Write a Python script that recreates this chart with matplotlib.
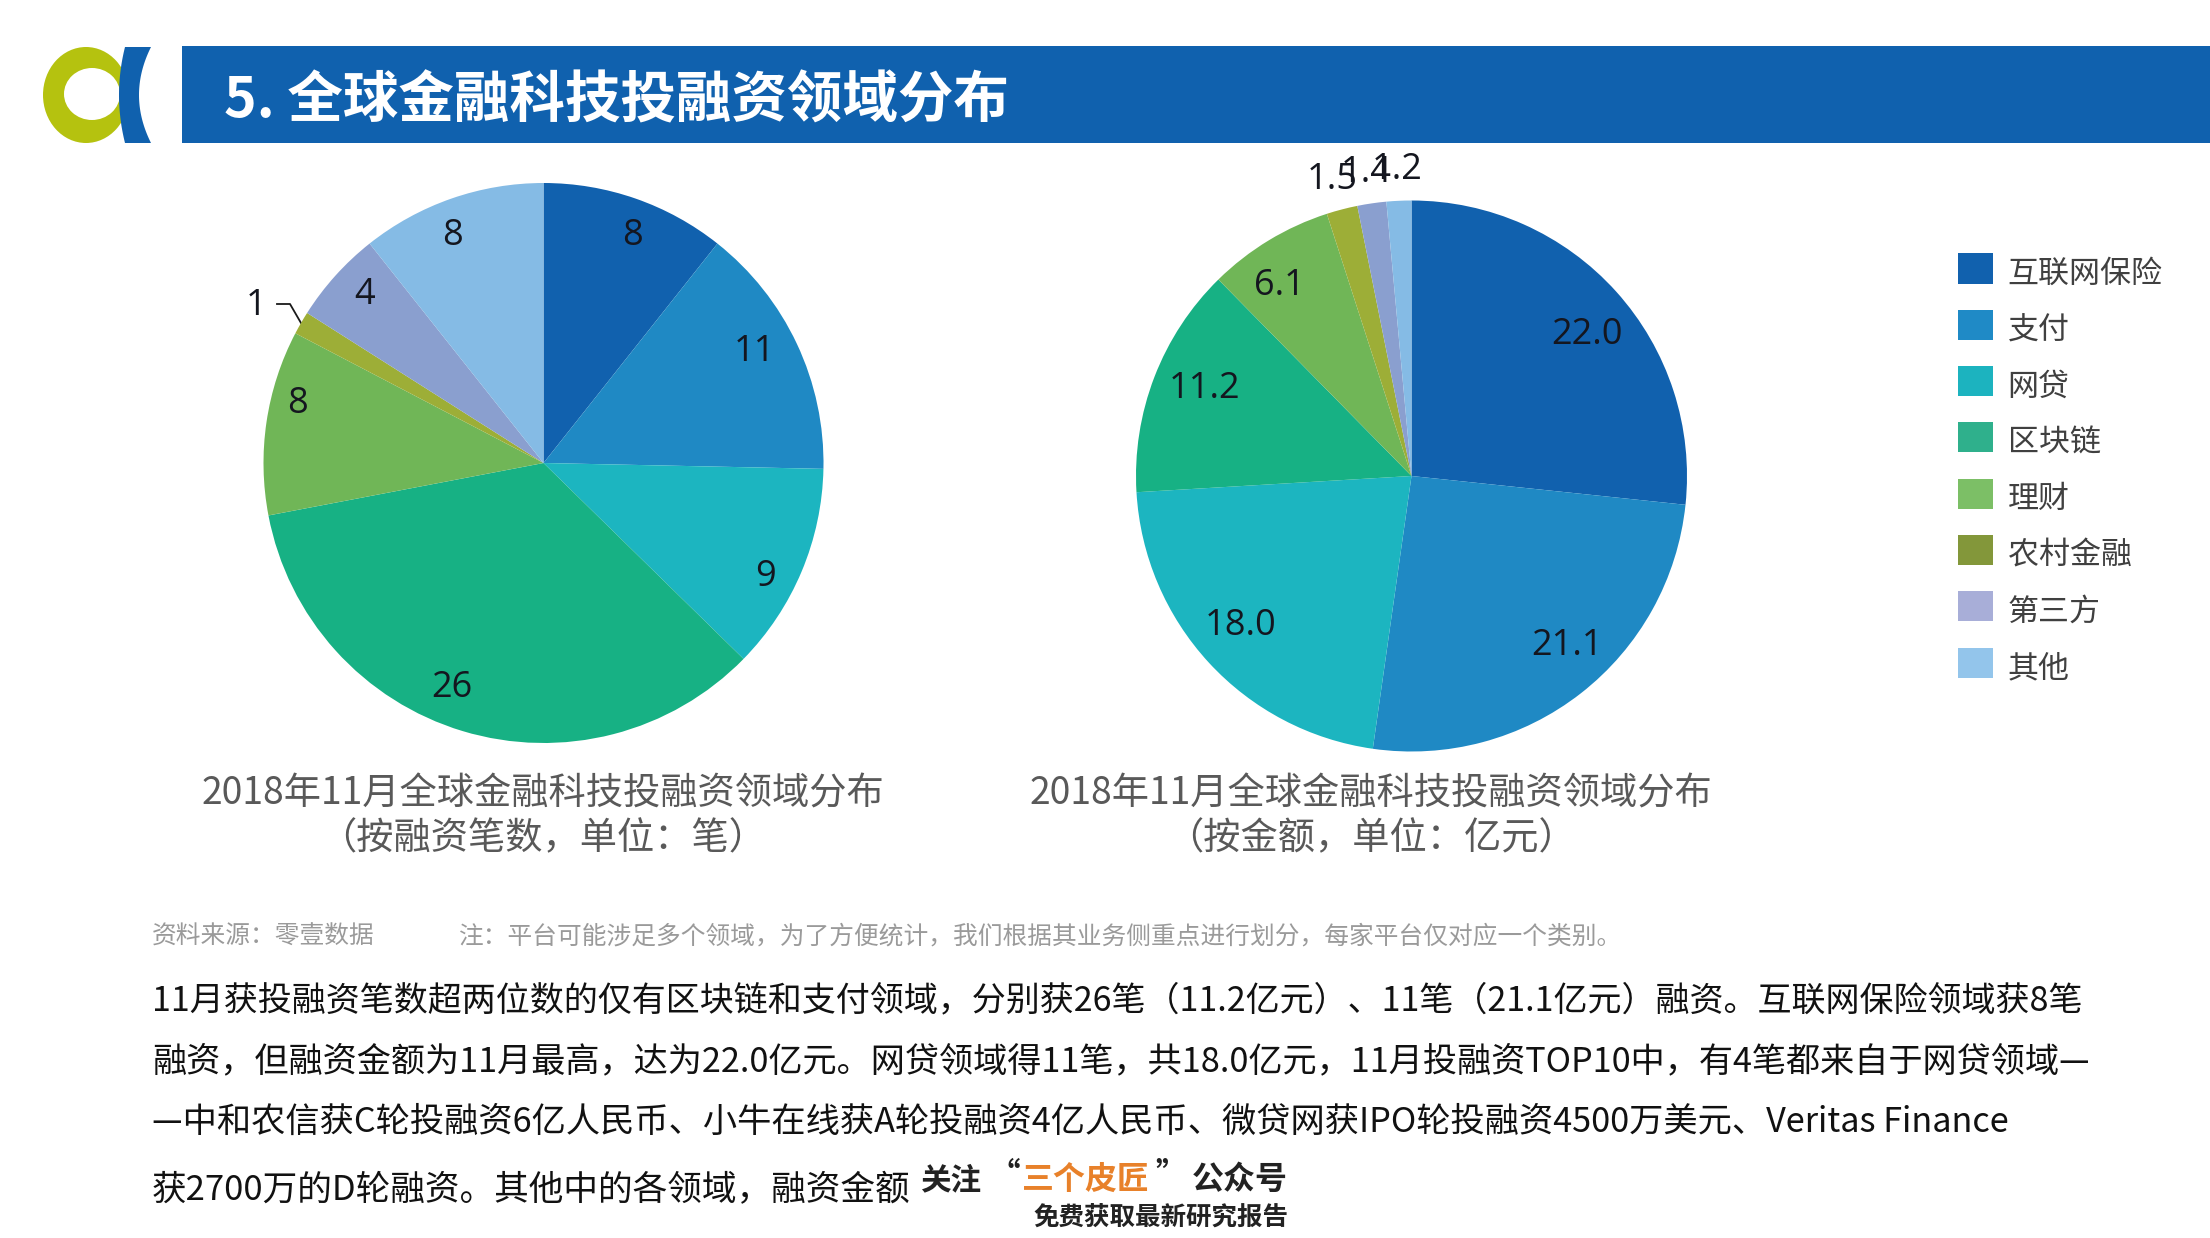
import numpy as np
import matplotlib
matplotlib.use("Agg")
import matplotlib.pyplot as plt
from matplotlib.patches import Rectangle, Ellipse, Polygon, Patch
from matplotlib.legend_handler import HandlerPatch

plt.rcParams['font.family'] = ['Noto Sans CJK SC', 'DejaVu Sans']

W, H = 2210, 1238

categories = ['互联网保险', '支付', '网贷', '区块链', '理财', '农村金融', '第三方', '其他']
deal_counts = [8, 11, 9, 26, 8, 1, 4, 8]
amounts = [22.0, 21.1, 18.0, 11.2, 6.1, 1.5, 1.4, 1.2]
count_labels = ['8', '11', '9', '26', '8', '1', '4', '8']
amount_labels = ['22.0', '21.1', '18.0', '11.2', '6.1', '1.5', '1.4', '1.2']
pie_colors = ['#1161AE', '#1F89C4', '#1CB5C0', '#17B184', '#70B657', '#9DAE37', '#8A9FCF', '#85BBE5']
legend_colors = ['#1161AE', '#1F8AC6', '#1CB3BF', '#2FB08C', '#7CBF66', '#83973A', '#A8AED8', '#93C5EB']
count_dist = [0.88, 0.85, 0.86, 0.85, 0.90, 1.18, 0.88, 0.88]
amount_dist = [0.83, 0.82, 0.81, 0.82, 0.86, 1.14, 1.14, 1.14]
# small label nudges, as a fraction of the pie radius
count_nudge = [(.03, -.02), (-.015, .035), (0, -.075), (-.08, .01), (.01, .08), (-.005, -.03), (.015, .01), (-.035, -.02)]
amount_nudge = [(.02, -.045), (.06, .03), (-.025, .005), (.015, .02), (-.035, -.045), (0, -.027), (0, -.027), (0, -.027)]

caption_line = '2018年11月全球金融科技投融资领域分布'
caption_left = '（按融资笔数，单位：笔）'
caption_right = '（按金额，单位：亿元）'
title = '5. 全球金融科技投融资领域分布'
source = '资料来源：零壹数据'
note = '注：平台可能涉足多个领域，为了方便统计，我们根据其业务侧重点进行划分，每家平台仅对应一个类别。'
body = [
    '11月获投融资笔数超两位数的仅有区块链和支付领域，分别获26笔（11.2亿元）、11笔（21.1亿元）融资。互联网保险领域获8笔',
    '融资，但融资金额为11月最高，达为22.0亿元。网贷领域得11笔，共18.0亿元，11月投融资TOP10中，有4笔都来自于网贷领域—',
    '—中和农信获C轮投融资6亿人民币、小牛在线获A轮投融资4亿人民币、微贷网获IPO轮投融资4500万美元、Veritas Finance',
    '获2700万的D轮融资。其他中的各领域，融资金额',
]
body_sizes = [24.5, 24.6, 24.65, 24.95]

fig = plt.figure(figsize=(W / 100, H / 100), dpi=100, facecolor='white')

page = fig.add_axes([0, 0, 1, 1])
page.set_xlim(0, W)
page.set_ylim(H, 0)
page.axis('off')

page.add_patch(Rectangle((182, 46), W - 182, 97, color='#1061AE', lw=0))
page.add_patch(Ellipse((86, 95), 86, 96, color='#B5C20F', lw=0))
page.add_patch(Ellipse((92, 94), 56, 52, color='white', lw=0))
t = np.linspace(-1, 1, 60)
left_edge = np.column_stack([119 + 6 * t**2, 95 + 48 * t])
right_edge = np.column_stack([139 + 12 * t**2, 95 + 48 * t])[::-1]
page.add_patch(Polygon(np.vstack([left_edge, right_edge]), color='#1061AE', lw=0))
page.text(224, 101, title, color='white', fontsize=40, fontweight='bold', va='center', ha='left')

page.plot([277, 290, 301], [304, 304, 323], color='#1a1a1a', lw=1.3)


def draw_pie(cx, cy, r, values, labels, dists, nudges):
    ax = fig.add_axes([(cx - r) / W, 1 - (cy + r) / H, 2 * r / W, 2 * r / H])
    wedges, _ = ax.pie(values, colors=pie_colors, startangle=90, counterclock=False, radius=1)
    ax.set_xlim(-1, 1)
    ax.set_ylim(-1, 1)
    ax.set_aspect('equal')
    for w, lab, d, (nx, ny) in zip(wedges, labels, dists, nudges):
        a = np.deg2rad((w.theta1 + w.theta2) / 2)
        ax.text(d * np.cos(a) + nx, d * np.sin(a) + ny, lab, ha='center', va='center',
                fontsize=26, color='#14161f', family='Open Sans')
    return ax


draw_pie(543.5, 463, 280, deal_counts, count_labels, count_dist, count_nudge)
draw_pie(1411.5, 476, 275.5, amounts, amount_labels, amount_dist, amount_nudge)

cap_kw = dict(ha='center', va='center', fontsize=26.8, color='#595959')
page.text(543, 794, caption_line, **cap_kw)
page.text(543, 839, caption_left, **cap_kw)
page.text(1371, 794, caption_line, **cap_kw)
page.text(1371, 839, caption_right, **cap_kw)

page.text(152, 937, source, ha='left', va='center', fontsize=17.8, color='#9a9a9a')
page.text(459, 937, note, ha='left', va='center', fontsize=17.8, color='#9a9a9a')

for txt, y, fs in zip(body, [1001, 1062, 1122, 1191], body_sizes):
    page.text(152, y, txt, ha='left', va='center', fontsize=fs, color='#111111')

wm = dict(va='center', ha='left', fontsize=22, fontweight='bold', color='#222222')
page.text(920, 1180, '关注', **wm)
page.text(989, 1176, '“', **wm)
page.text(1022, 1180, '三个皮匠', **{**wm, 'fontsize': 23, 'color': '#E8812A'})
page.text(1155, 1176, '”', **wm)
page.text(1192, 1180, '公众号', **{**wm, 'fontsize': 23})
page.text(1033, 1217, '免费获取最新研究报告', va='center', ha='left', fontsize=18.4,
          fontweight='bold', color='#222222')


def raised_swatch(legend, orig_handle, xdescent, ydescent, width, height, fontsize):
    return Rectangle((-xdescent, -ydescent + 2.9), width, height)


handles = [Patch(facecolor=c, edgecolor='none') for c in legend_colors]
leg = page.legend(handles, categories, loc='upper left', bbox_to_anchor=(1958 / W, 1 - 257.5 / H),
                  bbox_transform=fig.transFigure, frameon=False, fontsize=22.3, borderpad=0,
                  borderaxespad=0, handlelength=1.13, handleheight=1.115, labelspacing=0.768,
                  handletextpad=0.47, handler_map={Patch: HandlerPatch(patch_func=raised_swatch)})
for txt in leg.get_texts():
    txt.set_color('#404040')

fig.savefig('out.png', dpi=100, facecolor='white')
